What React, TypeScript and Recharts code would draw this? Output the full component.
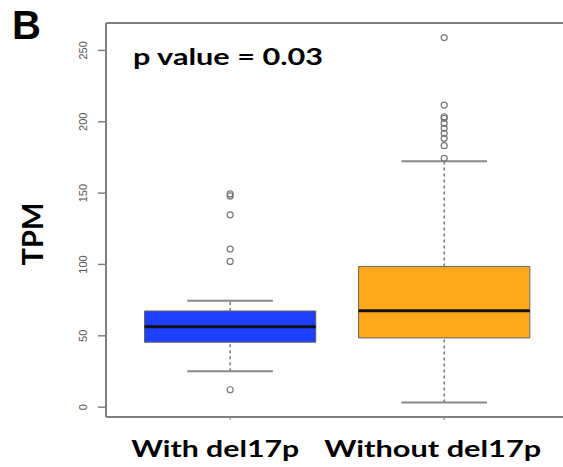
import {
  ComposedChart,
  XAxis,
  YAxis,
  Scatter,
  ReferenceArea,
  ReferenceLine,
} from 'recharts'

const groups = ['With del17p', 'Without del17p']
const groupColors = ['#1E3FFF', '#FFA81C']

// five-number summaries
const lowerWhisker = [25.2, 3.3]
const q1 = [45.5, 48.5]
const median = [56.4, 67.6]
const q3 = [67.4, 98.6]
const upperWhisker = [74.6, 172.3]

const outliersWith = [149.4, 148.0, 134.8, 110.8, 102.1, 12.2]
const outliersWithout = [259.0, 211.7, 203.5, 202.4, 198.9, 195.4, 191.9, 188.4, 183.2, 174.4]

const yTicks = [0, 50, 100, 150, 200, 250]

const BOX_HALF = 0.4
const CAP_HALF = 0.2
const Y_MIN = -6.9
const Y_MAX = 269.2

const frameColor = '#808080'
const labelFont = 'Lato, "Open Sans", sans-serif'

const outlierData = [
  ...outliersWith.map(v => ({ x: 1, y: v })),
  ...outliersWithout.map(v => ({ x: 2, y: v })),
]

const YTick = (props: any) => {
  const { x, y, payload } = props
  return (
    <text
      x={x - 13}
      y={y}
      transform={`rotate(-90, ${x - 13}, ${y})`}
      textAnchor="middle"
      dominantBaseline="central"
      fontSize={11}
      fontFamily='"Liberation Sans", Arial, sans-serif'
      fill="#555"
    >
      {payload.value}
    </text>
  )
}

// labels were pasted on by hand in the source (wide bold font), not centred on the boxes
const labelShift = [-99, -120]
const labelWidth = [168, 217]

const XTick = (props: any) => {
  const { x, payload, index } = props
  return (
    <text
      x={x + (labelShift[index] ?? 0)}
      y={457}
      textAnchor="start"
      fontSize={23}
      fontWeight={700}
      fontFamily={labelFont}
      fill="#000"
      textLength={labelWidth[index]}
      lengthAdjust="spacingAndGlyphs"
    >
      {groups[payload.value - 1]}
    </text>
  )
}

const Dot = (props: any) => (
  <circle cx={props.cx} cy={props.cy} r={3} fill="none" stroke="#777" strokeWidth={1.2} />
)

export default function App() {
  return (
    <div style={{ position: 'absolute', left: 0, top: 0, width: 563, height: 467, background: '#fff', overflow: 'hidden' }}>
      <ComposedChart width={563} height={467} margin={{ top: 23, right: 0, bottom: 0, left: 0 }}>
        <XAxis
          type="number"
          dataKey="x"
          domain={[0.42, 2.555]}
          ticks={[1, 2]}
          allowDataOverflow
          height={50}
          axisLine={{ stroke: frameColor, strokeWidth: 2 }}
          tickLine={{ stroke: frameColor, strokeWidth: 1 }}
          tickSize={3}
          tick={<XTick />}
        />
        <YAxis
          type="number"
          dataKey="y"
          domain={[Y_MIN, Y_MAX]}
          ticks={yTicks}
          allowDataOverflow
          width={106}
          axisLine={{ stroke: frameColor, strokeWidth: 2 }}
          tickLine={{ stroke: frameColor, strokeWidth: 1.5 }}
          tickSize={8}
          tick={<YTick />}
        />
        <ReferenceLine y={Y_MAX} stroke={frameColor} strokeWidth={2} />

        {groups.map((g, i) => {
          const c = i + 1
          return [
            <ReferenceLine
              key={g + 'wu'}
              segment={[{ x: c, y: q3[i] }, { x: c, y: upperWhisker[i] }]}
              stroke="#777"
              strokeWidth={1.5}
              strokeDasharray="3 3"
            />,
            <ReferenceLine
              key={g + 'wl'}
              segment={[{ x: c, y: lowerWhisker[i] }, { x: c, y: q1[i] }]}
              stroke="#777"
              strokeWidth={1.5}
              strokeDasharray="3 3"
            />,
            <ReferenceLine
              key={g + 'cu'}
              segment={[{ x: c - CAP_HALF, y: upperWhisker[i] }, { x: c + CAP_HALF, y: upperWhisker[i] }]}
              stroke="#888"
              strokeWidth={2}
            />,
            <ReferenceLine
              key={g + 'cl'}
              segment={[{ x: c - CAP_HALF, y: lowerWhisker[i] }, { x: c + CAP_HALF, y: lowerWhisker[i] }]}
              stroke="#888"
              strokeWidth={2}
            />,
            <ReferenceArea
              key={g + 'box'}
              x1={c - BOX_HALF}
              x2={c + BOX_HALF}
              y1={q1[i]}
              y2={q3[i]}
              fill={groupColors[i]}
              fillOpacity={1}
              stroke="#666"
              strokeWidth={1}
            />,
            <ReferenceLine
              key={g + 'med'}
              segment={[{ x: c - BOX_HALF, y: median[i] }, { x: c + BOX_HALF, y: median[i] }]}
              stroke="#111"
              strokeWidth={3}
            />,
          ]
        })}

        <Scatter data={outlierData} dataKey="y" shape={<Dot />} isAnimationActive={false} />
      </ComposedChart>

      <svg width={563} height={467} style={{ position: 'absolute', left: 0, top: 0, pointerEvents: 'none' }}>
        <text x={12} y={39} fontSize={40} fontWeight={700} fontFamily='"Liberation Sans", Arial, sans-serif' fill="#000">
          B
        </text>
        <text
          x={133}
          y={65}
          fontSize={23}
          fontWeight={700}
          fontFamily={labelFont}
          fill="#000"
          textLength={190}
          lengthAdjust="spacingAndGlyphs"
        >
          p value = 0.03
        </text>
        <text
          x={42.5}
          y={234}
          transform="rotate(-90, 42.5, 234)"
          textAnchor="middle"
          fontSize={29}
          fontWeight={700}
          fontFamily={labelFont}
          fill="#000"
        >
          TPM
        </text>
      </svg>
    </div>
  )
}
